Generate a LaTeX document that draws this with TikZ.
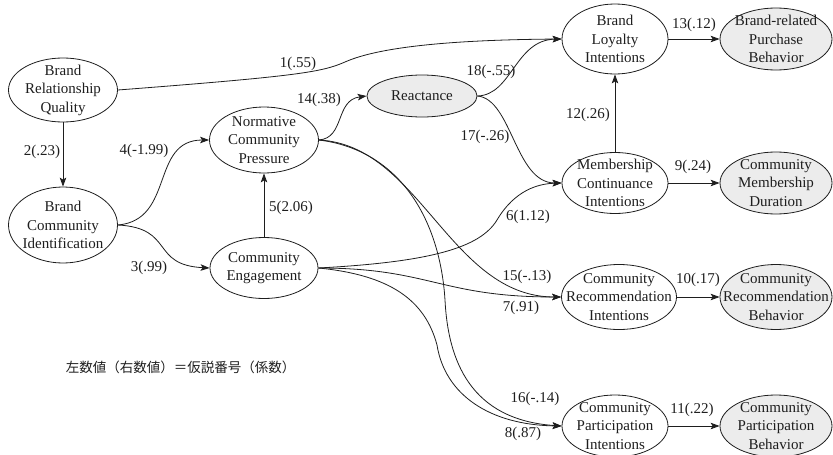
\documentclass[tikz,border=0pt]{standalone}
\usepackage{fontspec}
\setmainfont{Liberation Serif}
\newfontfamily\jpfont{Noto Sans CJK JP}
\usetikzlibrary{shapes.geometric,arrows.meta}
\definecolor{shade}{RGB}{236,236,236}
\definecolor{ink}{RGB}{30,30,30}
\begin{document}
\begin{tikzpicture}[x=1pt,y=-1pt,
  ell/.style={ellipse,draw=ink,line width=0.8pt,inner sep=0pt},
  latent/.style={ell,fill=shade},
  txt/.style={align=center,inner sep=0pt,text=ink,font=\fontsize{15}{18.5}\selectfont},
  elab/.style={inner sep=0pt,text=ink,font=\fontsize{15}{18}\selectfont},
  arr/.style={draw=ink,line width=0.8pt,-{Stealth[length=9pt,width=6.5pt,inset=2pt]}},
]
\useasboundingbox (0,0) rectangle (833,455);

% ellipses
\node[ell,minimum width=109pt,minimum height=64pt] (brq) at (63,90) {};
\node[ell,minimum width=109pt,minimum height=76pt] (bci) at (63,225) {};
\node[ell,minimum width=109pt,minimum height=66pt] (ncp) at (264,140) {};
\node[ell,minimum width=108pt,minimum height=61pt] (ce) at (264,268) {};
\node[latent,minimum width=110pt,minimum height=42pt] (react) at (422,96) {};
\node[ell,minimum width=106pt,minimum height=70pt] (bli) at (615,39) {};
\node[latent,minimum width=112pt,minimum height=62pt] (bpb) at (776,39) {};
\node[ell,minimum width=106pt,minimum height=61pt] (mci) at (615,183) {};
\node[latent,minimum width=112pt,minimum height=62pt] (cmd) at (776,183) {};
\node[ell,minimum width=115pt,minimum height=65pt] (cri) at (619,297) {};
\node[latent,minimum width=112pt,minimum height=65pt] (crb) at (776,297) {};
\node[ell,minimum width=106pt,minimum height=62pt] (cpi) at (615,426) {};
\node[latent,minimum width=112pt,minimum height=62pt] (cpb) at (776,426) {};

% texts
\node[txt] (brqt) at (brq) {Brand\\Relationship\\Quality};
\node[txt] (bcit) at (bci) {Brand\\Community\\Identification};
\node[txt] (ncpt) at (ncp) {Normative\\Community\\Pressure};
\node[txt] (cet) at (ce) {Community\\Engagement};
\node[txt] (reactt) at (react) {Reactance};
\node[txt] (blit) at (bli) {Brand\\Loyalty\\Intentions};
\node[txt] (bpbt) at (bpb) {Brand-related\\Purchase\\Behavior};
\node[txt] (mcit) at (mci) {Membership\\Continuance\\Intentions};
\node[txt] (cmdt) at (cmd) {Community\\Membership\\Duration};
\node[txt] (crit) at (cri) {Community\\Recommendation\\Intentions};
\node[txt] (crbt) at (crb) {Community\\Recommendation\\Behavior};
\node[txt] (cpit) at (cpi) {Community\\Participation\\Intentions};
\node[txt] (cpbt) at (cpb) {Community\\Participation\\Behavior};

% connectors
\draw[arr] (brq.east) .. controls (300,76) and (322,72) .. (345,62) .. controls (372,50) and (430,40) .. (bli.west);
\draw[arr] (brq.south) -- (bci.north);
\draw[arr] (bci.east) .. controls (175,228) and (150,265) .. (ce.west);
\draw[arr] (bci.east) .. controls (175,220) and (150,140) .. (ncp.west);
\draw[arr] (ce.north) -- (ncp.south);
\draw[arr] (ncp.east) .. controls (345,138) and (335,100) .. (react.west);
\draw[arr] (react.east) .. controls (512,95) and (515,40) .. (bli.west);
\draw[arr] (react.east) .. controls (512,99) and (515,183) .. (mci.west);
\draw[arr] (ce.east) .. controls (430,262) and (480,248) .. (497,220) .. controls (507,203) and (525,184) .. (mci.west);
\draw[arr] (ce.east) .. controls (430,268) and (440,297) .. (cri.west);
\draw[arr] (ce.east) .. controls (390,275) and (425,300) .. (437,345) .. controls (445,395) and (490,425) .. (cpi.west);
\draw[arr] (ncp.east) .. controls (420,145) and (450,297) .. (cri.west);
\draw[arr] (ncp.east) .. controls (400,150) and (440,220) .. (445,300) .. controls (448,360) and (470,420) .. (cpi.west);
\draw[arr] (mci.north) -- (bli.south);
\draw[arr] (bli.east) -- (bpb.west);
\draw[arr] (mci.east) -- (cmd.west);
\draw[arr] (cri.east) -- (crb.west);
\draw[arr] (cpi.east) -- (cpb.west);

% edge labels
\node[elab] (l1) at (298,64) {1(.55)};
\node[elab] (l2) at (42,152) {2(.23)};
\node[elab] (l3) at (149,268) {3(.99)};
\node[elab] (l4) at (144,151) {4(-1.99)};
\node[elab] (l5) at (291,208) {5(2.06)};
\node[elab] (l6) at (528,217) {6(1.12)};
\node[elab] (l7) at (521,308) {7(.91)};
\node[elab] (l8) at (523,434) {8(.87)};
\node[elab] (l9) at (693,167) {9(.24)};
\node[elab] (l10) at (698,280) {10(.17)};
\node[elab] (l11) at (692,410) {11(.22)};
\node[elab] (l12) at (588,115) {12(.26)};
\node[elab] (l13) at (694,25) {13(.12)};
\node[elab] (l14) at (319,100) {14(.38)};
\node[elab] (l15) at (527,277) {15(-.13)};
\node[elab] (l16) at (535,399) {16(-.14)};
\node[elab] (l17) at (485,137) {17(-.26)};
\node[elab] (l18) at (491,72) {18(-.55)};

% legend
\node[inner sep=0pt,text=ink,font=\jpfont\fontsize{13.5}{16}\selectfont] (legend) at (180.5,367) {左数値（右数値）＝仮説番号（係数）};
\end{tikzpicture}
\end{document}
